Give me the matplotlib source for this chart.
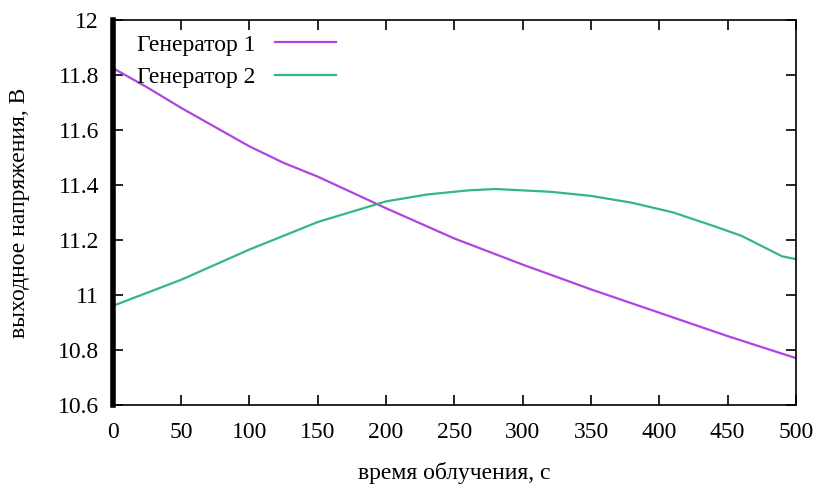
import matplotlib.pyplot as plt

# время облучения, с
t_gen1 = [0, 25, 50, 75, 100, 125, 150, 200, 250, 300, 350, 400, 450, 500]
u_gen1 = [11.825, 11.755, 11.68, 11.61, 11.54, 11.48, 11.43, 11.315, 11.205, 11.11, 11.02, 10.935, 10.85, 10.77]

t_gen2 = [0, 50, 100, 150, 200, 230, 260, 280, 320, 350, 380, 410, 440, 460, 480, 490, 500]
u_gen2 = [10.96, 11.055, 11.165, 11.265, 11.34, 11.365, 11.38, 11.385, 11.375, 11.36, 11.335, 11.3, 11.25, 11.215, 11.165, 11.14, 11.13]

yticks = [10.6, 10.8, 11.0, 11.2, 11.4, 11.6, 11.8, 12.0]
ytick_labels = ['10.6', '10.8', '11', '11.2', '11.4', '11.6', '11.8', '12']
xticks = list(range(0, 501, 50))

plt.rcParams['font.family'] = ['Liberation Serif', 'DejaVu Serif']
plt.rcParams['font.size'] = 17

fig = plt.figure(figsize=(8.18, 4.86), dpi=100)
ax = fig.add_axes([0.138, 0.167, 0.835, 0.792])

ax.plot(t_gen1, u_gen1, color='#b044e0', lw=1.6, label='Генератор 1')
ax.plot(t_gen2, u_gen2, color='#35b58a', lw=1.6, label='Генератор 2')

ax.set_xlim(0, 500)
ax.set_ylim(10.6, 12.0)
ax.set_xticks(xticks)
ax.set_yticks(yticks)
ax.set_yticklabels(ytick_labels)
ax.tick_params(direction='in', top=True, right=True, length=7, width=1.2)
ax.tick_params(axis='x', pad=12)
ax.tick_params(axis='y', pad=10)

for s in ['top', 'right', 'bottom']:
    ax.spines[s].set_linewidth(1.2)
ax.spines['left'].set_linewidth(4)

ax.set_xlabel('время облучения, с', labelpad=14)
ax.set_ylabel('выходное напряжения, В', labelpad=20)

ax.legend(loc='upper left', frameon=False, markerfirst=False, handlelength=2.6,
          handletextpad=0.8, borderaxespad=0.2, labelspacing=0.45,
          bbox_to_anchor=(0.015, 1.0))

fig.savefig('out.png', dpi=100)
